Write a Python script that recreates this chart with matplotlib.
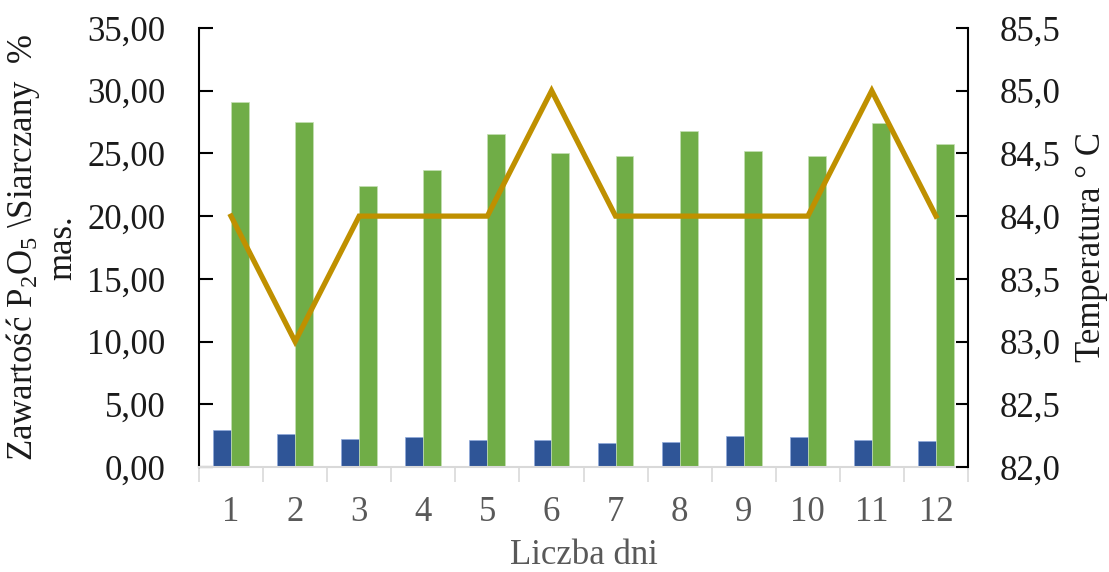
import matplotlib
matplotlib.use("Agg")
import matplotlib.pyplot as plt
from matplotlib.ticker import FuncFormatter, FixedLocator
import numpy as np

plt.rcParams['font.family'] = ['Liberation Serif', 'DejaVu Serif']
plt.rcParams['mathtext.fontset'] = 'custom'
plt.rcParams['mathtext.rm'] = 'Liberation Serif'
plt.rcParams['mathtext.it'] = 'Liberation Serif:italic'

days = ['1', '2', '3', '4', '5', '6', '7', '8', '9', '10', '11', '12']
p2o5 = [2.92, 2.60, 2.23, 2.42, 2.13, 2.13, 1.94, 2.02, 2.45, 2.37, 2.13, 2.07]
siarczany = [29.1, 27.5, 22.4, 23.66, 26.55, 25.04, 24.8, 26.75, 25.2, 24.78, 27.43, 25.78]
temperatura = [84.0, 83.0, 84.0, 84.0, 84.0, 85.0, 84.0, 84.0, 84.0, 84.0, 85.0, 84.0]

blue = '#2F5597'
green = '#70AD47'
gold = '#BF9000'
grey_txt = '#595959'
axis_grey = '#D9D9D9'
fs = 25

fig = plt.figure(figsize=(11.09, 5.72), dpi=100)
ax = fig.add_axes([0.1794, 0.1836, 0.6935, 0.7675])
x = np.arange(1, len(days) + 1)
w = 0.28

ax.bar(x - w / 2, p2o5, width=w, color=blue, edgecolor='#8FAADC', linewidth=0.5, zorder=2)
ax.bar(x + w / 2, siarczany, width=w, color=green, edgecolor='#C5E0B4', linewidth=0.5, zorder=2)

ax.set_xlim(0.5, 12.5)
ax.set_ylim(0, 35)
ax.set_yticks(np.arange(0, 35.01, 5))
ax.yaxis.set_major_formatter(FuncFormatter(lambda v, p: f"{v:.2f}".replace('.', ',')))

ax.set_xticks(x)
ax.set_xticklabels(days)
ax.xaxis.set_minor_locator(FixedLocator(np.arange(0.5, 12.51, 1)))
ax.tick_params(axis='x', which='major', length=0, pad=21, labelsize=fs, labelcolor=grey_txt)
ax.tick_params(axis='x', which='minor', length=11, width=1.2, color=axis_grey, direction='out')
ax.tick_params(axis='y', direction='in', length=10, width=1.5, color='black',
               labelsize=fs, labelcolor='#1a1a1a', pad=24)

for s in ['top', 'right']:
    ax.spines[s].set_visible(False)
ax.spines['bottom'].set_color(axis_grey)
ax.spines['bottom'].set_linewidth(1.5)
ax.spines['left'].set_color('black')
ax.spines['left'].set_linewidth(1.5)

ax.set_xlabel('Liczba dni', fontsize=fs, color=grey_txt, labelpad=7)
ax.set_ylabel('Zawartość P$_2$O$_5$ \\Siarczany  %\nmas.', fontsize=fs,
              color='#1a1a1a', linespacing=1.15, labelpad=6)

ax2 = ax.twinx()
ax2.plot(x, temperatura, color=gold, linewidth=3.8, zorder=3, solid_joinstyle='miter')
ax2.set_ylim(82, 85.5)
ax2.set_yticks(np.arange(82, 85.51, 0.5))
ax2.yaxis.set_major_formatter(FuncFormatter(lambda v, p: f"{v:.1f}".replace('.', ',')))
ax2.tick_params(axis='y', direction='in', length=9, width=1.5, color='black',
                labelsize=fs, labelcolor='#1a1a1a', pad=23)
for s in ['top', 'left', 'bottom']:
    ax2.spines[s].set_visible(False)
ax2.spines['right'].set_color('black')
ax2.spines['right'].set_linewidth(1.5)
ax2.set_ylabel('Temperatura ° C', fontsize=fs, color='#1a1a1a', labelpad=10)

fig.savefig('out.png', dpi=100)
